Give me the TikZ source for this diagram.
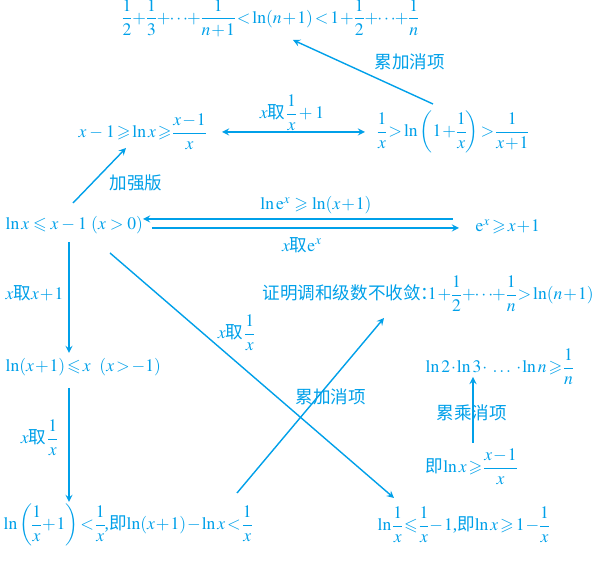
\documentclass[tikz,border=0pt]{standalone}
\usepackage{amsmath,amssymb}
\usepackage{mathptmx}
\usepackage[no-math]{fontspec}
\setmainfont{Liberation Serif}
\newfontfamily\zhfont{Noto Sans CJK SC}
\newcommand{\zh}[1]{{\zhfont #1}}
\newcommand{\cds}{\mkern-2mu\cdots\mkern-2mu}
\definecolor{diagblue}{RGB}{0,160,233}
\thinmuskip=2mu
\medmuskip=1mu
\thickmuskip=2mu
\nulldelimiterspace=0pt

\begin{document}
\begin{tikzpicture}[x=0.02cm,y=-0.02cm,->,>=stealth,line width=0.8pt,color=diagblue,
    formula/.style={anchor=west,inner sep=0pt},
    tag/.style={inner sep=0pt}]
                \useasboundingbox (0,0) rectangle (600,567);
                \node[formula] (sum) at (122,18) {$\dfrac12+\dfrac13+\cds+\dfrac1{n+1}<\ln(n+1)<1+\dfrac12+\cds+\dfrac1n$};
                \node[formula] (strong) at (78,132) {$x\,-\,1\geqslant\ln x\geqslant\dfrac{x-1}{x}$};
                \node[formula] (recip) at (377,132) {$\dfrac1x>\ln\left(1+\dfrac1x\right)>\dfrac1{x+1}$};
                \node[formula] (base) at (5,225) {$\ln x\;\leqslant\;x\,-\,1\ (x\,>\,0)$};
                \node[formula] (expo) at (475,227) {$\mathrm{e}^x\geqslant x+1$};
                \node[formula] (shift) at (5,367) {$\ln(x+1)\leqslant x\ \ (x>-1)$};
                \node[formula] (harm) at (262,294) {\zh{证明调和级数不收敛\makebox[0.4em][l]{：}}$1+\dfrac12+\cds+\dfrac1n>\ln(n+1)$};
                \node[formula] (prod) at (425,367) {$\ln2\cdot\ln3\cdot\ \ldots\ \cdot\ln n\geqslant\dfrac1n$};
                \node[formula] (equiv) at (425,467) {\zh{即}$\ln x\geqslant\dfrac{x-1}{x}$};
                \node[formula] (left) at (3,525) {$\ln\left(\dfrac1x+1\right)<\dfrac1x$,\zh{即}$\ln(x+1)-\ln x<\dfrac1x$};
                \node[formula] (right) at (377,525) {$\ln\dfrac1x\leqslant\dfrac1x-1$,\zh{即}$\ln x\geqslant1-\dfrac1x$};

                % labels
                \node[tag] (l1) at (410,62) {\zh{累加消项}};
                \node[tag] (l2) at (292,113) {$x$\zh{取}$\,\dfrac1x\,+\,1$};
                \node[tag] (l3) at (136,183) {\zh{加强版}};
                \node[tag] (l4) at (316,205) {$\ln\mathrm{e}^x\;\geqslant\;\ln(x+1)$};
                \node[tag] (l5) at (302,245) {$x$\zh{取}$\mathrm{e}^x$};
                \node[tag,anchor=west] (l6) at (5,293) {$x$\zh{取}$x+1$};
                \node[tag] (l7) at (236,333) {$x$\zh{取}$\,\dfrac1x$};
                \node[tag] (l8) at (39,438) {$x$\zh{取}$\,\dfrac1x$};
                \node[tag] (l9) at (331,397) {\zh{累加消项}};
                \node[tag] (l10) at (472,413) {\zh{累乘消项}};

                \path
                    ([shift={(56,-28)}]recip.west) edge ([shift={(171,22)}]sum.west)
                    ([shift={(144,0)}]strong.west) edge[<->] ([shift={(-12,0)}]recip.west)
                    ([shift={(68,-22)}]base.west) edge ([shift={(48,16)}]strong.west)
                    ([shift={(-22,-8)}]expo.west) edge ([shift={(138,-6)}]base.west)
                    ([shift={(147,3)}]base.west) edge ([shift={(-16,1)}]expo.west)
                    ([shift={(64,17)}]base.west) edge ([shift={(64,-14)}]shift.west)
                    ([shift={(105,28)}]base.west) edge ([shift={(17,-27)}]right.west)
                    ([shift={(64,21)}]shift.west) edge ([shift={(66,-23)}]left.west)
                    ([shift={(234,-32)}]left.west) edge ([shift={(122,24)}]harm.west)
                    ([shift={(48,-24)}]equiv.west) edge ([shift={(48,10)}]prod.west)
                    ;
\end{tikzpicture}
\end{document}
